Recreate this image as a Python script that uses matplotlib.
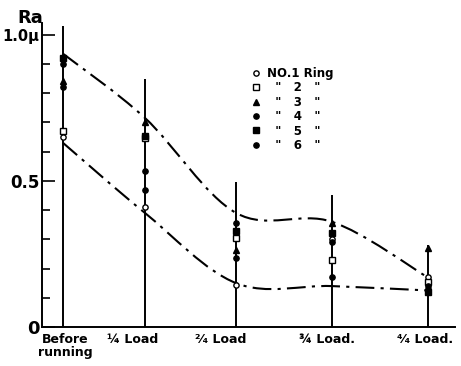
import numpy as np
import matplotlib
matplotlib.use("Agg")
import matplotlib.pyplot as plt
from matplotlib.path import Path
from matplotlib.patches import PathPatch
from matplotlib.ticker import MultipleLocator
from matplotlib.transforms import ScaledTranslation

# stages along the x axis (hand drawn, slightly uneven spacing)
stage_x = [0, 0.9, 1.9, 2.95, 4.0]
stage_labels = ["Before\nrunning", "¼ Load", "²⁄₄ Load", "¾ Load.", "⁴⁄₄ Load."]
line_top = [1.03, 0.85, 0.495, 0.45, 0.28]

# surface roughness Ra (micron) of each ring
ring1 = [0.65, 0.41, 0.145, 0.30, 0.17]
ring2 = [0.67, 0.645, 0.305, 0.23, 0.155]
ring3 = [0.84, 0.70, 0.265, 0.355, 0.27]
ring4 = [0.90, 0.47, 0.235, 0.17, 0.13]
ring5 = [0.92, 0.655, 0.33, 0.32, 0.12]
ring6 = [0.82, 0.535, 0.355, 0.29, 0.14]

# envelope curves
upper = [0.935, 0.715, 0.39, 0.36, 0.17]
lower = [0.63, 0.39, 0.15, 0.14, 0.125]

rings = [ring1, ring2, ring3, ring4, ring5, ring6]
ring_labels = ['NO.1 Ring', '  "   2   "', '  "   3   "', '  "   4   "',
               '  "   5   "', '  "   6   "']
markers = [('o', 'white'), ('s', 'white'), ('^', 'black'), ('o', 'black'),
           ('s', 'black'), ('o', 'black')]


def smooth_path(xs, ys):
    # catmull-rom through the points, drawn as cubic beziers
    p = np.column_stack([xs, ys])
    p = np.vstack([p[0], p, p[-1]])
    verts = [p[1]]
    codes = [Path.MOVETO]
    for i in range(1, len(p) - 2):
        c1 = p[i] + (p[i + 1] - p[i - 1]) / 6
        c2 = p[i + 1] - (p[i + 2] - p[i]) / 6
        verts += [c1, c2, p[i + 1]]
        codes += [Path.CURVE4] * 3
    return Path(verts, codes)


fig = plt.figure(figsize=(4.61, 3.66), dpi=100)
ax = fig.add_axes([42 / 461, 1 - 327 / 366, 413 / 461, 304 / 366])

ax.vlines(stage_x, 0, line_top, color='black', lw=1.4)

for curve in [upper, lower]:
    patch = PathPatch(smooth_path(stage_x, curve), fill=False, color='black',
                      lw=1.5, linestyle=(0, (9, 3, 1.5, 3)))
    ax.add_patch(patch)

for vals, lab, (m, fc) in zip(rings, ring_labels, markers):
    ax.plot(stage_x, vals, linestyle='none', marker=m, ms=3.8, mfc=fc,
            mec='black', mew=1.0, label=lab)

ax.set_xlim(-0.23, 4.3)
ax.set_ylim(0, 1.04)
ax.spines['top'].set_visible(False)
ax.spines['right'].set_visible(False)
ax.spines['left'].set_linewidth(1.4)
ax.spines['bottom'].set_linewidth(1.4)

ax.set_yticks([0, 0.5, 1.0])
ax.set_yticklabels(['0', '0.5', '1.0μ'], fontweight='bold')
ylabs = ax.get_yticklabels()
ylabs[0].set_fontsize(13)
ylabs[1].set_fontsize(12)
ylabs[2].set_fontsize(10.5)
ax.yaxis.set_minor_locator(MultipleLocator(0.1))
ax.tick_params(axis='y', which='major', direction='in', length=9, width=1.2, pad=2)
ax.tick_params(axis='y', which='minor', direction='in', length=6, width=1.2)

ax.set_xticks(stage_x)
ax.set_xticklabels(stage_labels, fontsize=9, fontweight='bold')
ax.tick_params(axis='x', length=0, pad=4)
shifts = [2, -12, -16, -5, -3]
for t, dx in zip(ax.get_xticklabels(), shifts):
    t.set_linespacing(1.0)
    t.set_transform(t.get_transform() + ScaledTranslation(dx / 100, 0, fig.dpi_scale_trans))

fig.text(17 / 461, 1 - 18 / 366, 'Ra', fontsize=13, fontweight='bold', va='center')

ax.legend(loc='upper left', bbox_to_anchor=(0.495, 0.875), frameon=False,
          handlelength=0.6, handletextpad=0.6, labelspacing=0.12, borderpad=0,
          prop={'weight': 'bold', 'size': 8.5})

fig.savefig('out.png', dpi=100)
